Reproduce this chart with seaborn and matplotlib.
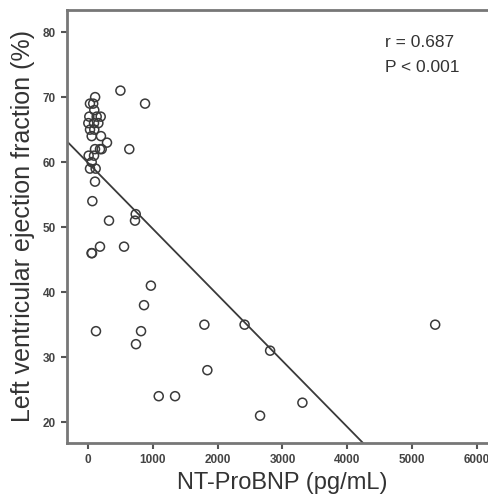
#!/usr/bin/env python3

import pandas as pd
import matplotlib
matplotlib.use('Agg')
import matplotlib.pyplot as plt
import seaborn as sns

# NT-ProBNP (pg/mL) vs LVEF (%)
ntprobnp = [500, 880, 110, 30, 80, 97, 20, 134, 196, 5, 93, 160,
            31, 97, 57, 200, 293, 108, 185, 211, 637, 10, 93, 57,
            31, 118, 108, 67, 324, 736, 725, 185, 556, 55, 62,
            970, 864, 123, 818, 740, 1795, 1841, 1091, 1343, 2415,
            2809, 3307, 2654, 5355]
lvef = [71, 69, 70, 69, 69, 68, 67, 67, 67, 66, 66, 66,
        65, 65, 64, 64, 63, 62, 62, 62, 62, 61, 61, 60,
        59, 59, 57, 54, 51, 52, 51, 47, 47, 46, 46,
        41, 38, 34, 34, 32, 35, 28, 24, 24, 35,
        31, 23, 21, 35]

# fitted regression line as printed in the figure
fit_intercept = 59.9
fit_slope = -0.01016

stats_lines = ['r = 0.687', 'P < 0.001']
x_ticks = [0, 1000, 2000, 3000, 4000, 5000, 6000]
y_ticks = [20, 30, 40, 50, 60, 70, 80]

sns.set_theme(style='white')
plt.rcParams['font.family'] = ['Liberation Sans', 'DejaVu Sans']

def main():
    data = pd.DataFrame({'ntprobnp': ntprobnp, 'lvef': lvef})

    fig = plt.figure(figsize=(4.89, 5.0), dpi=100)
    ax = fig.add_axes([0.137, 0.114, 0.918, 0.866])

    sns.scatterplot(x='ntprobnp', y='lvef', data=data, ax=ax,
                    marker='o', s=42, facecolor='none',
                    edgecolor='#3a3a3a', linewidth=1.1)
    ax.axline((0, fit_intercept), slope=fit_slope, color='#3a3a3a', lw=1.3)

    ax.set_xlim(-324, 6600)
    ax.set_ylim(16.8, 83.4)
    ax.set_xticks(x_ticks)
    ax.set_yticks(y_ticks)
    ax.tick_params(axis='both', which='major', direction='out', length=4.5,
                   width=1.5, color='#555555', labelsize=8.5,
                   labelcolor='#444444', bottom=True, left=True)
    for lab in ax.get_xticklabels() + ax.get_yticklabels():
        lab.set_fontweight('bold')
    for side in ['left', 'bottom', 'top']:
        ax.spines[side].set_color('#777777')
        ax.spines[side].set_linewidth(2)
    ax.spines['right'].set_visible(False)

    ax.set_xlabel('NT-ProBNP (pg/mL)', fontsize=17, color='#333333')
    ax.set_ylabel('Left ventricular ejection fraction (%)', fontsize=18,
                  color='#333333')
    ax.xaxis.label.set_va('center')
    ax.yaxis.label.set_va('center')
    ax.xaxis.set_label_coords(0.479, -0.092)
    ax.yaxis.set_label_coords(-0.098, 0.501)

    ax.text(0.708, 0.925, stats_lines[0], transform=ax.transAxes,
            fontsize=12.5, color='#333333', va='center')
    ax.text(0.708, 0.867, stats_lines[1], transform=ax.transAxes,
            fontsize=12.5, color='#333333', va='center')

    fig.savefig('out.png', dpi=100)


if __name__ == '__main__':
    main()
